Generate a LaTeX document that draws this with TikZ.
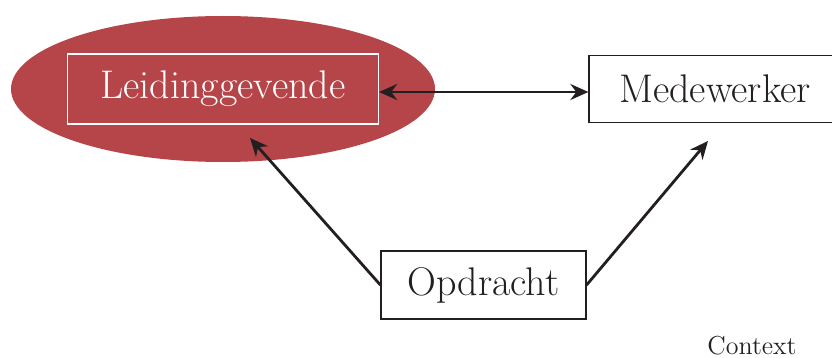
\documentclass[tikz,border=0pt]{standalone}
\usepackage{tikz}
\usetikzlibrary{shapes.geometric, arrows, arrows.meta, positioning}
\definecolor{leadRed}{RGB}{181,69,72}
\definecolor{inkBlack}{RGB}{35,31,32}
\tikzstyle{ellNode} = [ellipse, minimum width=212pt, minimum height=73pt, fill=leadRed, draw=none]
\tikzstyle{recNode} = [rectangle, text centered, inner sep=0pt, line width=0.6pt, draw=inkBlack, text=inkBlack, font=\fontsize{20}{24}\selectfont]
\tikzstyle{recNodeW} = [recNode, draw=white, text=white, minimum width=155.5pt, minimum height=35pt]
\tikzstyle{arrow} = [line width=1.4pt,-{Stealth[length=9pt,width=8pt]},draw=inkBlack]
\tikzstyle{arrowD} = [line width=1.4pt,{Stealth[length=9pt,width=8pt]}-{Stealth[length=9pt,width=8pt]},draw=inkBlack]

\begin{document}
\begin{tikzpicture}[x=0.5pt, y=-0.5pt]
        \useasboundingbox (0,0) rectangle (832,358);
        \node (ell) [ellNode] at (223,89) {};
        \node (lead) [recNodeW] at (ell.center) {Leidinggevende};
        \node (mede) [recNode, minimum width=126pt, minimum height=33.5pt] at (715,89) {Medewerker};
        \node (opdr) [recNode, minimum width=102.5pt, minimum height=34pt] at (483.5,285) {Opdracht};
        \node (ctx) [text=inkBlack, inner sep=0pt, font=\fontsize{13}{15}\selectfont] at (752,346) {Context};
        \coordinate (leadTip) at (250,138);
        \coordinate (medeTip) at (708,141);

        \draw [arrowD] ([yshift=-1.5pt]lead.east) -- ([yshift=-1.5pt]mede.west);
        \draw [arrow] (opdr.west) -- (leadTip);
        \draw [arrow] (opdr.east) -- (medeTip);
    \end{tikzpicture}
\end{document}
